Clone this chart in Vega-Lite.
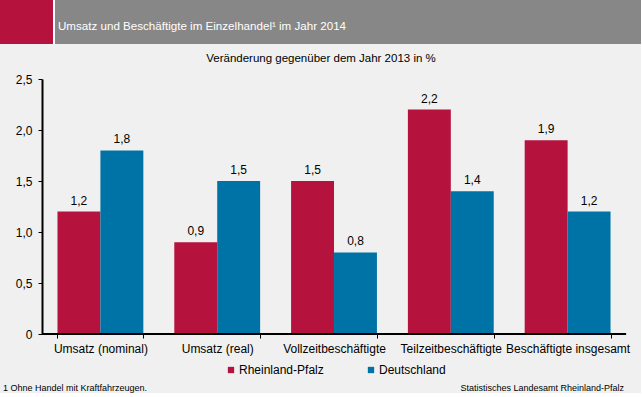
{
  "$schema": "https://vega.github.io/schema/vega-lite/v6.json",
  "background": "#eff0ef",
  "padding": 0,
  "spacing": 8,
  "columns": 1,
  "resolve": {"legend": {"color": "independent"}, "scale": {"color": "independent"}},
  "config": {
    "font": "Liberation Sans",
    "view": {"stroke": null},
    "legend": {"layout": {"bottom": {"anchor": "middle"}}},
    "locale": {"number": {"decimal": ",", "thousands": ".", "grouping": [3], "currency": ["", " €"]}}
  },
  "concat": [
    {
      "spacing": 0,
      "hconcat": [
        {
          "width": 53, "height": 44,
          "view": {"fill": "#b5123e", "stroke": null},
          "data": {"values": [{"t": ""}]},
          "mark": {"type": "text"},
          "encoding": {"text": {"field": "t"}}
        },
        {
          "width": 2, "height": 44,
          "view": {"fill": "#ffffff", "stroke": null},
          "data": {"values": [{"t": ""}]},
          "mark": {"type": "text"},
          "encoding": {"text": {"field": "t"}}
        },
        {
          "width": 586, "height": 44,
          "view": {"fill": "#878787", "stroke": null},
          "title": {"text": "Umsatz und Beschäftigte im Einzelhandel¹ im Jahr 2014", "anchor": "start", "color": "#ffffff", "fontSize": 11.6, "fontWeight": "normal", "font": "Liberation Sans", "offset": -33, "dx": 3},
          "data": {"values": [{"t": ""}]},
          "mark": {"type": "text"},
          "encoding": {"text": {"field": "t"}}
        }
      ]
    },
    {
      "width": 626,
      "height": 255,
      "title": {"text": "Veränderung gegenüber dem Jahr 2013 in %", "anchor": "middle", "color": "#000000", "fontSize": 11.5, "fontWeight": "normal", "font": "Liberation Sans", "offset": 9, "dx": 8},
      "data": {"values": [
        {"kategorie": "Umsatz (nominal)", "region": "Rheinland-Pfalz", "wert": 1.2},
        {"kategorie": "Umsatz (nominal)", "region": "Deutschland", "wert": 1.8},
        {"kategorie": "Umsatz (real)", "region": "Rheinland-Pfalz", "wert": 0.9},
        {"kategorie": "Umsatz (real)", "region": "Deutschland", "wert": 1.5},
        {"kategorie": "Vollzeitbeschäftigte", "region": "Rheinland-Pfalz", "wert": 1.5},
        {"kategorie": "Vollzeitbeschäftigte", "region": "Deutschland", "wert": 0.8},
        {"kategorie": "Teilzeitbeschäftigte", "region": "Rheinland-Pfalz", "wert": 2.2},
        {"kategorie": "Teilzeitbeschäftigte", "region": "Deutschland", "wert": 1.4},
        {"kategorie": "Beschäftigte insgesamt", "region": "Rheinland-Pfalz", "wert": 1.9},
        {"kategorie": "Beschäftigte insgesamt", "region": "Deutschland", "wert": 1.2}
      ]},
      "encoding": {
        "x": {
          "field": "kategorie", "type": "nominal", "sort": null, "title": null,
          "scale": {"paddingInner": 0.265, "paddingOuter": 0.3123, "align": 0.788},
          "axis": {"labelAngle": 0, "labelFontSize": 12, "labelColor": "#000000", "labelPadding": 5, "domain": false, "tickColor": "#000000", "tickSize": 4, "tickBand": "extent", "grid": false}
        },
        "xOffset": {"field": "region", "type": "nominal", "sort": ["Rheinland-Pfalz", "Deutschland"], "scale": {"paddingInner": 0, "paddingOuter": 0}},
        "y": {
          "field": "wert", "type": "quantitative", "title": null,
          "scale": {"domain": [0, 2.5], "nice": false},
          "axis": {"offset": -42, "values": [0, 0.5, 1, 1.5, 2, 2.5], "labelExpr": "datum.value == 0 ? '0' : replace(format(datum.value, '.1f'), '.', ',')", "labelFontSize": 12, "labelColor": "#000000", "labelPadding": 6, "domainColor": "#000000", "domainWidth": 2, "tickColor": "#000000", "tickSize": 4, "grid": false}
        }
      },
      "layer": [
        {
          "mark": {"type": "bar"},
          "encoding": {
            "color": {
              "field": "region", "type": "nominal",
              "scale": {"domain": ["Rheinland-Pfalz", "Deutschland"], "range": ["#b5123e", "#0073a6"]},
              "legend": {"orient": "bottom", "direction": "horizontal", "title": " ", "titleOrient": "left", "titlePadding": 45, "symbolType": "square", "symbolSize": 40, "symbolStrokeWidth": 0, "labelFontSize": 12, "labelColor": "#000000", "labelOffset": 2, "columnPadding": 41, "offset": 10}
            }
          }
        },
        {
          "mark": {"type": "text", "baseline": "bottom", "dy": -4, "fontSize": 12, "color": "#000000"},
          "encoding": {"text": {"field": "wert", "type": "quantitative", "format": ".1f"}}
        },
        {
          "mark": {"type": "rule", "color": "#000000", "strokeWidth": 2},
          "encoding": {
            "x": {"datum": "Umsatz (nominal)", "bandPosition": -0.1803},
            "x2": {"datum": "Beschäftigte insgesamt", "bandPosition": 1.1803},
            "y": {"datum": 0},
            "xOffset": null
          }
        }
      ]
    },
    {
      "width": 624,
      "height": 4,
      "layer": [
        {
          "data": {"values": [{"pos": "l", "t": "1 Ohne Handel mit Kraftfahrzeugen."}]},
          "mark": {"type": "text", "align": "left", "baseline": "middle", "fontSize": 9, "color": "#000000", "dx": 3},
          "encoding": {
            "x": {"field": "pos", "type": "nominal", "scale": {"type": "point", "domain": ["l", "r"], "padding": 0}, "axis": null},
            "text": {"field": "t"}
          }
        },
        {
          "data": {"values": [{"pos": "r", "t": "Statistisches Landesamt Rheinland-Pfalz"}]},
          "mark": {"type": "text", "align": "right", "baseline": "middle", "fontSize": 9, "color": "#000000"},
          "encoding": {
            "x": {"field": "pos", "type": "nominal", "scale": {"type": "point", "domain": ["l", "r"], "padding": 0}, "axis": null},
            "text": {"field": "t"}
          }
        }
      ]
    }
  ]
}
